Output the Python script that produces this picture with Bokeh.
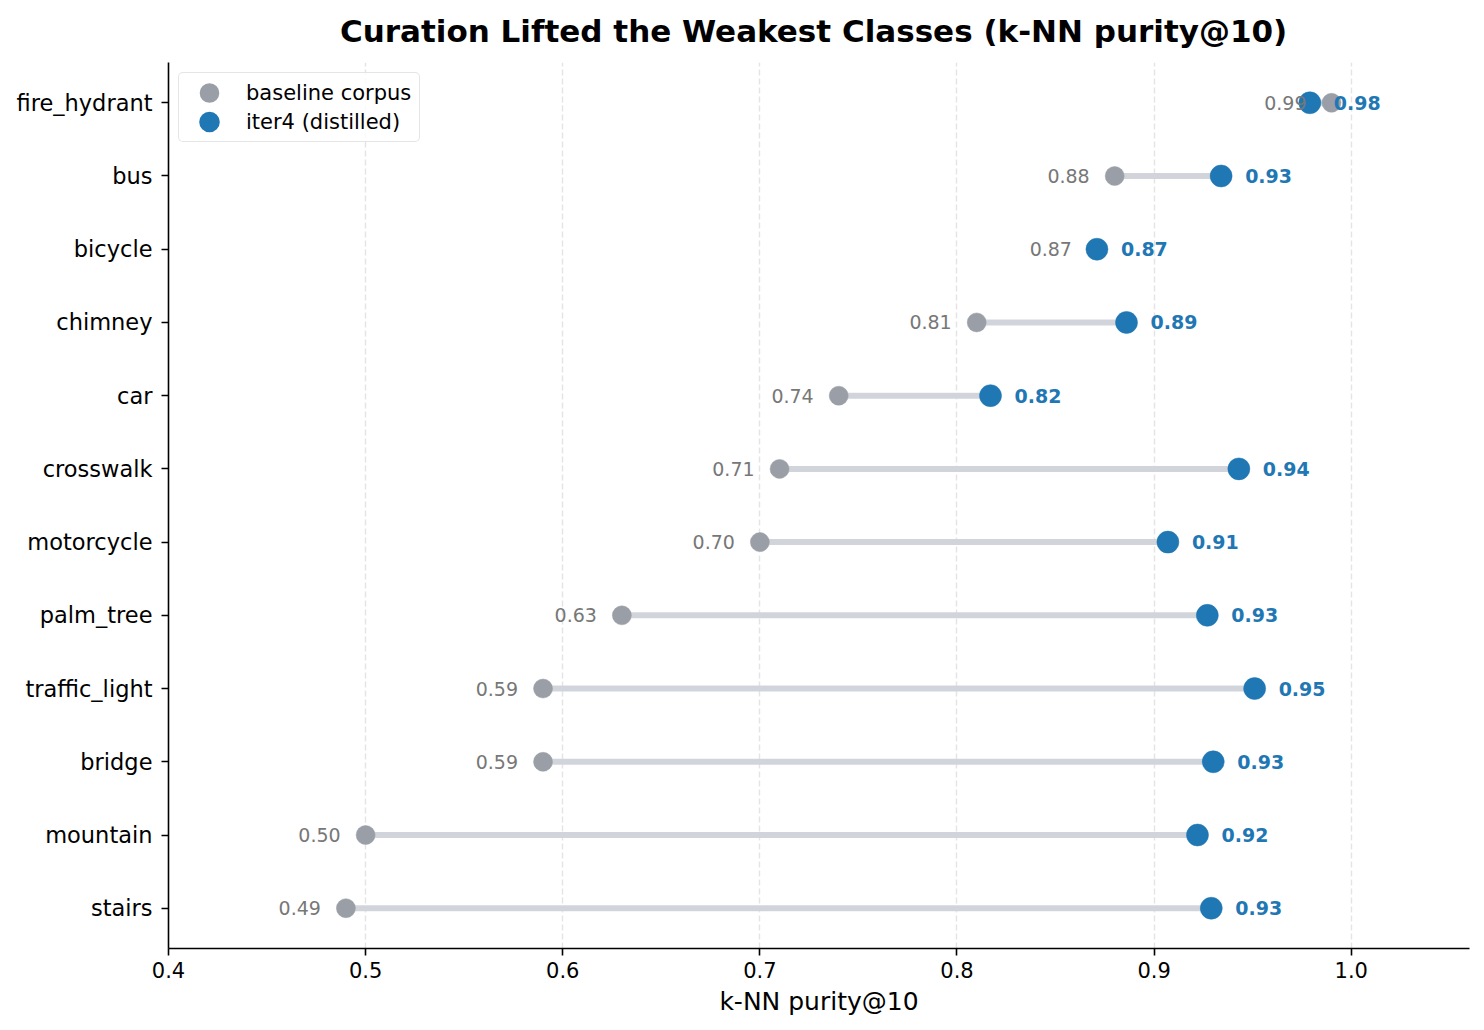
from bokeh.plotting import figure
from bokeh.models import ColumnDataSource, FixedTicker, Legend, LegendItem, Range1d
from bokeh.core.properties import value
from bokeh.embed import file_html
from bokeh.resources import INLINE

# ---- data (bottom row first) ----
classes = ["stairs", "mountain", "bridge", "traffic_light", "palm_tree", "motorcycle",
           "crosswalk", "car", "chimney", "bicycle", "bus", "fire_hydrant"]
baseline = [0.49, 0.50, 0.59, 0.59, 0.63, 0.70, 0.71, 0.74, 0.81, 0.871, 0.88, 0.99]
iter4 = [0.929, 0.922, 0.930, 0.951, 0.927, 0.907, 0.943, 0.817, 0.886, 0.871, 0.934, 0.979]
x_ticks = [0.4, 0.5, 0.6, 0.7, 0.8, 0.9, 1.0]
x_tick_labels = ["0.4", "0.5", "0.6", "0.7", "0.8", "0.9", "1.0"]
series_names = ["baseline corpus", "iter4 (distilled)"]

FONT = "DejaVu Sans"
BLUE = "#1f77b4"
GRAY_PT = "#9a9ea6"
GRAY_LINE = "#d1d5db"
GRAY_TXT = "#777777"

ypos = list(range(len(classes)))
src = ColumnDataSource(dict(
    y=ypos, base=baseline, it=iter4,
    base_lbl=[f"{v:.2f}" for v in baseline],
    it_lbl=[f"{v:.2f}" for v in iter4],
))

p = figure(width=1484, height=1030, output_backend="svg", toolbar_location=None,
           x_range=Range1d(0.4, 1.06), y_range=Range1d(-0.55, len(classes) - 0.45),
           min_border_left=168, min_border_right=15, min_border_top=62, min_border_bottom=82,
           title="Curation Lifted the Weakest Classes  (k-NN purity@10)")
p.outline_line_color = None
p.background_fill_color = "white"
p.border_fill_color = "white"

p.title.align = "center"
p.title.vertical_align = "top"
p.title.text_font = FONT
p.title.text_font_size = "31px"
p.title.text_font_style = "bold"
p.title.text_color = "black"
p.title.standoff = 23

# axes
xa = p.xaxis[0]
xa.ticker = FixedTicker(ticks=x_ticks)
xa.major_label_overrides = {t: l for t, l in zip(x_ticks, x_tick_labels)}
xa.axis_label = "k-NN purity@10"
xa.axis_label_text_font = FONT
xa.axis_label_text_font_size = "25px"
xa.axis_label_text_font_style = "normal"
xa.axis_label_text_color = "black"
xa.axis_label_standoff = 6
xa.major_label_text_font = FONT
xa.major_label_text_font_size = "21px"
xa.major_label_standoff = 6
xa.major_tick_out = 7
xa.major_tick_in = 0
xa.minor_tick_out = 0
xa.minor_tick_in = 0
xa.axis_line_width = 1.6
xa.major_tick_line_width = 1.6
xa.axis_line_color = "black"
xa.major_tick_line_color = "black"
xa.major_label_text_color = "black"

ya = p.yaxis[0]
ya.ticker = FixedTicker(ticks=ypos)
ya.major_label_overrides = {i: c for i, c in zip(ypos, classes)}
ya.major_label_text_font = FONT
ya.major_label_text_font_size = "22.5px"
ya.major_label_standoff = 9
ya.major_tick_out = 7
ya.major_tick_in = 0
ya.minor_tick_out = 0
ya.minor_tick_in = 0
ya.axis_line_width = 1.6
ya.major_tick_line_width = 1.6
ya.axis_line_color = "black"
ya.major_tick_line_color = "black"
ya.major_label_text_color = "black"

p.ygrid.grid_line_color = None
p.xgrid.ticker = FixedTicker(ticks=x_ticks)
p.xgrid.grid_line_color = "#dddddd"
p.xgrid.grid_line_dash = "6 3"
p.xgrid.grid_line_width = 1.4
p.xgrid.grid_line_alpha = 0.8

# segments & points
p.segment(x0="base", y0="y", x1="it", y1="y", source=src,
          line_color=GRAY_LINE, line_width=6)
p.scatter(x="base", y="y", source=src, size=19, fill_color=GRAY_PT,
          line_color=GRAY_PT, line_width=0.5)
p.scatter(x="it", y="y", source=src, size=22, fill_color=BLUE,
          line_color=BLUE, line_width=0.5)

# value labels
p.text(x="base", y="y", text="base_lbl", source=src, x_offset=-25,
       text_align="right", text_baseline="middle", text_font=value(FONT),
       text_font_size="19px", text_color=GRAY_TXT)
p.text(x="it", y="y", text="it_lbl", source=src, x_offset=24,
       text_align="left", text_baseline="middle", text_font=value(FONT),
       text_font_size="19px", text_font_style="bold", text_color=BLUE)

# legend-only renderers (no data points, thick outline to enlarge the legend marker)
nan = float("nan")
leg_base = p.scatter(x=[nan], y=[nan], size=19, fill_color=GRAY_PT,
                     line_color=GRAY_PT, line_width=8)
leg_it = p.scatter(x=[nan], y=[nan], size=22, fill_color=BLUE,
                   line_color=BLUE, line_width=9)

legend = Legend(items=[LegendItem(label=series_names[0], renderers=[leg_base]),
                       LegendItem(label=series_names[1], renderers=[leg_it])],
                location="top_left")
legend.margin = 10
legend.padding = 5
legend.spacing = 0
legend.glyph_width = 50
legend.glyph_height = 29
legend.label_height = 29
legend.label_standoff = 12
legend.label_width = 168
legend.label_text_font = FONT
legend.label_text_font_size = "21px"
legend.label_text_color = "black"
legend.border_line_color = "#cccccc"
legend.border_line_width = 1.6
legend.border_radius = 5
legend.background_fill_alpha = 0.8
p.add_layout(legend)

open("out.html", "w").write(file_html(p, INLINE))
